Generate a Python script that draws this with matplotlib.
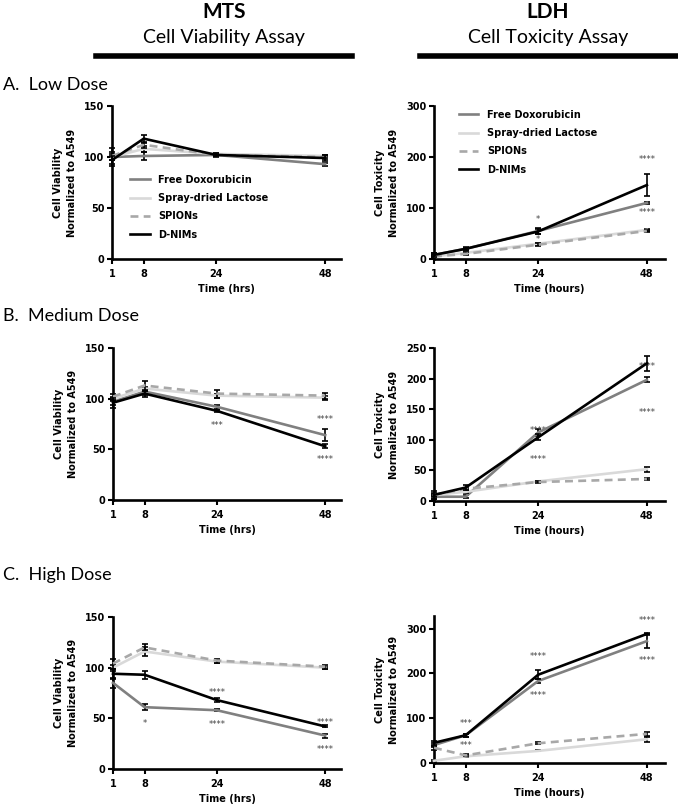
import matplotlib
matplotlib.use('Agg')
import matplotlib.pyplot as plt
from matplotlib.lines import Line2D

# time points (hours)
time = [1, 8, 24, 48]
series = ['Free Doxorubicin', 'Spray-dried Lactose', 'SPIONs', 'D-NIMs']

# MTS - cell viability (order: dox, lactose, spions, d-nims)
mts_low = [[100, 101, 102, 93], [100, 108, 103, 101], [101, 112, 102, 100], [97, 118, 102, 99]]
mts_low_err = [[9, 4, 1.5, 1.5], [3, 3, 1, 1], [4, 3, 1, 2], [4, 4, 2, 3]]
mts_med = [[97, 107, 92, 64], [100, 110, 103, 101], [102, 113, 105, 103], [96, 105, 88, 53]]
mts_med_err = [[3, 3, 2, 6], [2, 2, 2, 2], [3, 4, 4, 3], [5, 3, 1, 2]]
mts_high = [[85, 61, 58, 33], [100, 116, 106, 100], [104, 120, 107, 101], [94, 93, 68, 42]]
mts_high_err = [[5, 3, 1, 2], [3, 4, 1, 1], [5, 3, 2, 2], [5, 4, 2, 1]]

# LDH - cell toxicity
ldh_low = [[8, 20, 55, 110], [5, 12, 30, 57], [5, 10, 28, 55], [8, 20, 54, 145]]
ldh_low_err = [[3, 2, 5, 2], [2, 2, 2, 2], [2, 3, 3, 2], [4, 3, 4, 21]]
ldh_med = [[7, 7, 112, 198], [10, 15, 32, 52], [10, 20, 31, 36], [10, 22, 104, 225]]
ldh_med_err = [[3, 2, 5, 4], [2, 2, 1, 4], [3, 2, 1, 1], [6, 4, 5, 12]]
ldh_high = [[40, 62, 183, 272], [5, 15, 27, 53], [34, 17, 44, 65], [45, 62, 197, 288]]
ldh_high_err = [[4, 3, 5, 16], [2, 2, 1, 6], [4, 2, 2, 5], [5, 3, 10, 3]]

# significance marks (time, value, text)
stars_mts_low = []
stars_ldh_low = [(24, 78, '*'), (24, 38, '*'), (48, 196, '****'), (48, 92, '****')]
stars_mts_med = [(24, 74, '***'), (48, 79, '****'), (48, 40, '****')]
stars_ldh_med = [(24, 115, '****'), (24, 67, '****'), (48, 219, '****'), (48, 145, '****')]
stars_mts_high = [(8, 45, '*'), (24, 75, '****'), (24, 44, '****'), (48, 46, '****'), (48, 19, '****')]
stars_ldh_high = [(8, 88, '***'), (8, 40, '***'), (24, 238, '****'), (24, 150, '****'),
                  (48, 318, '****'), (48, 228, '****')]

colors = ['#808080', '#d9d9d9', '#a8a8a8', '#000000']
styles = ['-', '-', '--', '-']

W, H = 678, 806
fig = plt.figure(figsize=(W / 100, H / 100), dpi=100)
small = dict(family='DejaVu Sans', weight='bold', size=7)
head = ['Lato', 'DejaVu Sans']


def px_axes(left, right, top, bottom):
    return fig.add_axes([left / W, 1 - bottom / H, (right - left) / W, (bottom - top) / H])


def panel(ax, data, err, ylim, yticks, ylab, xlab, stars, xmax):
    for i in range(4):
        ln, caps, bars = ax.errorbar(time, data[i], yerr=err[i], color=colors[i], ls=styles[i],
                                     lw=1.9, ecolor='black', elinewidth=1.2, capsize=2.5,
                                     capthick=1.2, clip_on=False, zorder=3 + i)
        if styles[i] == '--':
            ln.set_dashes((3, 2))
        for c in caps:
            c.set_clip_on(False)
        for b in bars:
            b.set_clip_on(False)
    for x, y, s in stars:
        ax.text(x, y, s, ha='center', va='center', fontsize=6, color='#444444')
    ax.set_xlim(1, xmax)
    ax.set_ylim(*ylim)
    ax.set_xticks(time)
    ax.set_yticks(yticks)
    for side in ['top', 'right']:
        ax.spines[side].set_visible(False)
    for side in ['left', 'bottom']:
        ax.spines[side].set_linewidth(1.9)
    ax.tick_params(direction='out', length=3.5, width=1.5, pad=2)
    ax.tick_params(axis='x', pad=4)
    for lab in ax.get_xticklabels() + ax.get_yticklabels():
        lab.set_fontfamily(small['family'])
        lab.set_fontweight('bold')
        lab.set_fontsize(7)
    ax.set_xlabel(xlab, fontdict=small, labelpad=3)
    bbox = ax.get_position()
    ax.text(-47 / (bbox.width * W), 0.5, ylab, transform=ax.transAxes, rotation=90,
            ha='center', va='center', multialignment='center', linespacing=1.55, **small)


ylab_mts = 'Cell Viability\nNormalized to A549'
ylab_ldh = 'Cell Toxicity\nNormalized to A549'

ax1 = px_axes(112, 341, 106, 259)
panel(ax1, mts_low, mts_low_err, (0, 150), [0, 50, 100, 150], ylab_mts, 'Time (hrs)', stars_mts_low, 51.5)
ax2 = px_axes(434, 665, 106, 259)
panel(ax2, ldh_low, ldh_low_err, (0, 300), [0, 100, 200, 300], ylab_ldh, 'Time (hours)', stars_ldh_low, 52)
ax3 = px_axes(113, 341, 348, 500)
panel(ax3, mts_med, mts_med_err, (0, 150), [0, 50, 100, 150], ylab_mts, 'Time (hrs)', stars_mts_med, 51.5)
ax4 = px_axes(434, 665, 348, 501)
panel(ax4, ldh_med, ldh_med_err, (0, 250), [0, 50, 100, 150, 200, 250], ylab_ldh, 'Time (hours)', stars_ldh_med, 52)
ax5 = px_axes(113, 341, 617, 769)
panel(ax5, mts_high, mts_high_err, (0, 150), [0, 50, 100, 150], ylab_mts, 'Time (hrs)', stars_mts_high, 51.5)
ax6 = px_axes(434, 665, 616, 763)
panel(ax6, ldh_high, ldh_high_err, (0, 328), [0, 100, 200, 300], ylab_ldh, 'Time (hours)', stars_ldh_high, 52)

# legends
handles = [Line2D([], [], color=colors[i], ls=styles[i], lw=1.9) for i in range(4)]
handles[2].set_dashes((3, 2))
for ax, x0, y0 in [(ax1, 0.079, 0.55), (ax2, 0.108, 0.975)]:
    ax.legend(handles, series, loc='upper left', bbox_to_anchor=(x0, y0), frameon=False,
              borderpad=0, borderaxespad=0, handlelength=2.0, handletextpad=0.9,
              labelspacing=0.85, prop=small)

# column headers
fig.text(224 / W, 1 - 12 / H, 'MTS', ha='center', va='center', family=head, weight='bold', size=15)
fig.text(224 / W, 1 - 38 / H, 'Cell Viability Assay', ha='center', va='center', family=head, size=14)
fig.text(548 / W, 1 - 12 / H, 'LDH', ha='center', va='center', family=head, weight='bold', size=15)
fig.text(548 / W, 1 - 38 / H, 'Cell Toxicity Assay', ha='center', va='center', family=head, size=14)
fig.add_artist(Line2D([96 / W, 352 / W], [1 - 56 / H, 1 - 56 / H], color='black', lw=4))
fig.add_artist(Line2D([420 / W, 676 / W], [1 - 56 / H, 1 - 56 / H], color='black', lw=4))

# row labels
fig.text(3 / W, 1 - 85 / H, 'A.  Low Dose', ha='left', va='center', family=head, size=13)
fig.text(3 / W, 1 - 316 / H, 'B.  Medium Dose', ha='left', va='center', family=head, size=13)
fig.text(3 / W, 1 - 575 / H, 'C.  High Dose', ha='left', va='center', family=head, size=13)

fig.savefig('out.png', dpi=100)
